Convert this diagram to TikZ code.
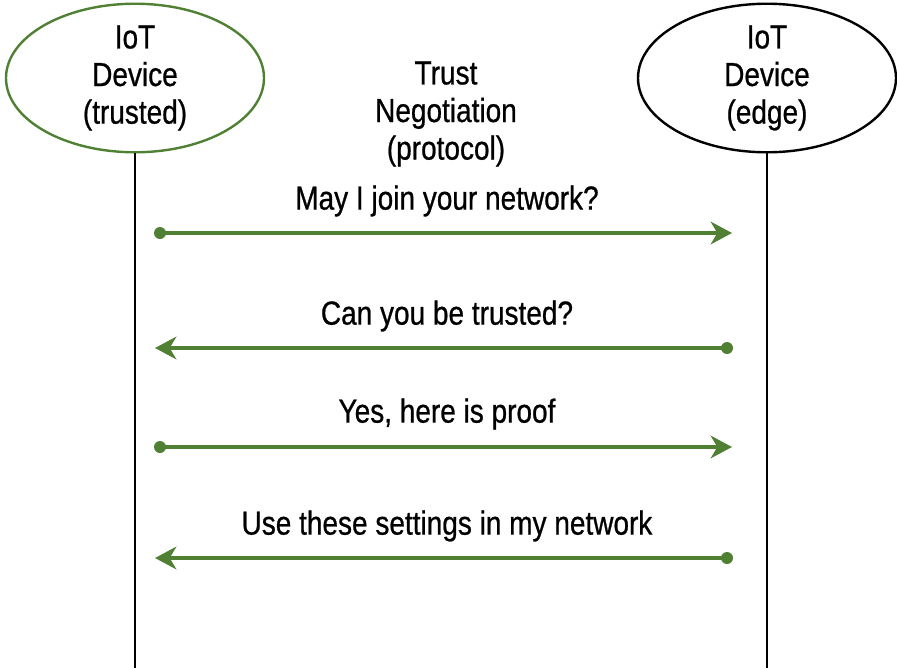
\documentclass[tikz,border=0pt]{standalone}
\usepackage{fontspec}
\setmainfont{Liberation Sans}[FakeStretch=0.84,FakeBold=0.7]
\usetikzlibrary{arrows.meta,shapes.geometric}
\definecolor{grn}{RGB}{80,128,52}
\begin{document}
\begin{tikzpicture}[x=0.75pt,y=-0.75pt,
  dev/.style={ellipse,minimum width=258*0.75pt,minimum height=144*0.75pt,line width=1.8pt,align=center,font=\fontsize{25}{28.2}\selectfont,inner sep=0pt},
  life/.style={line width=2.2pt,black},
  msg/.style={grn,line width=2.4pt,-{Stealth[length=16pt,width=17pt,inset=5pt]}},
  dot/.style={circle,fill=grn,inner sep=0pt,minimum size=9pt},
  lbl/.style={font=\fontsize{25}{28.2}\selectfont,align=center,inner sep=0pt}]
\useasboundingbox (0,0) rectangle (897,668);
\node[dev,draw=grn] (A) at (135,78) {IoT\\Device\\(trusted)};
\node[dev,draw=black] (B) at (767,78) {IoT\\Device\\(edge)};
\node[lbl] (T) at (446,114) {Trust\\Negotiation\\(protocol)};
\coordinate (Aend) at (135,668);
\coordinate (Bend) at (767,668);
\draw[life] (A.south) -- (Aend);
\draw[life] (B.south) -- (Bend);
% messages
\node[dot] (d1) at (160,233) {};
\coordinate (t1) at (732,233);
\draw[msg] (d1.center) -- (t1);
\node[lbl] (m1) at (447,201) {May I join your network?};
\node[dot] (d2) at (727,348) {};
\coordinate (t2) at (155,348);
\draw[msg] (d2.center) -- (t2);
\node[lbl] (m2) at (447,316) {Can you be trusted?};
\node[dot] (d3) at (160,447) {};
\coordinate (t3) at (732,447);
\draw[msg] (d3.center) -- (t3);
\node[lbl] (m3) at (447,414) {Yes, here is proof};
\node[dot] (d4) at (727,558) {};
\coordinate (t4) at (155,558);
\draw[msg] (d4.center) -- (t4);
\node[lbl] (m4) at (447,526) {Use these settings in my network};
\end{tikzpicture}
\end{document}
